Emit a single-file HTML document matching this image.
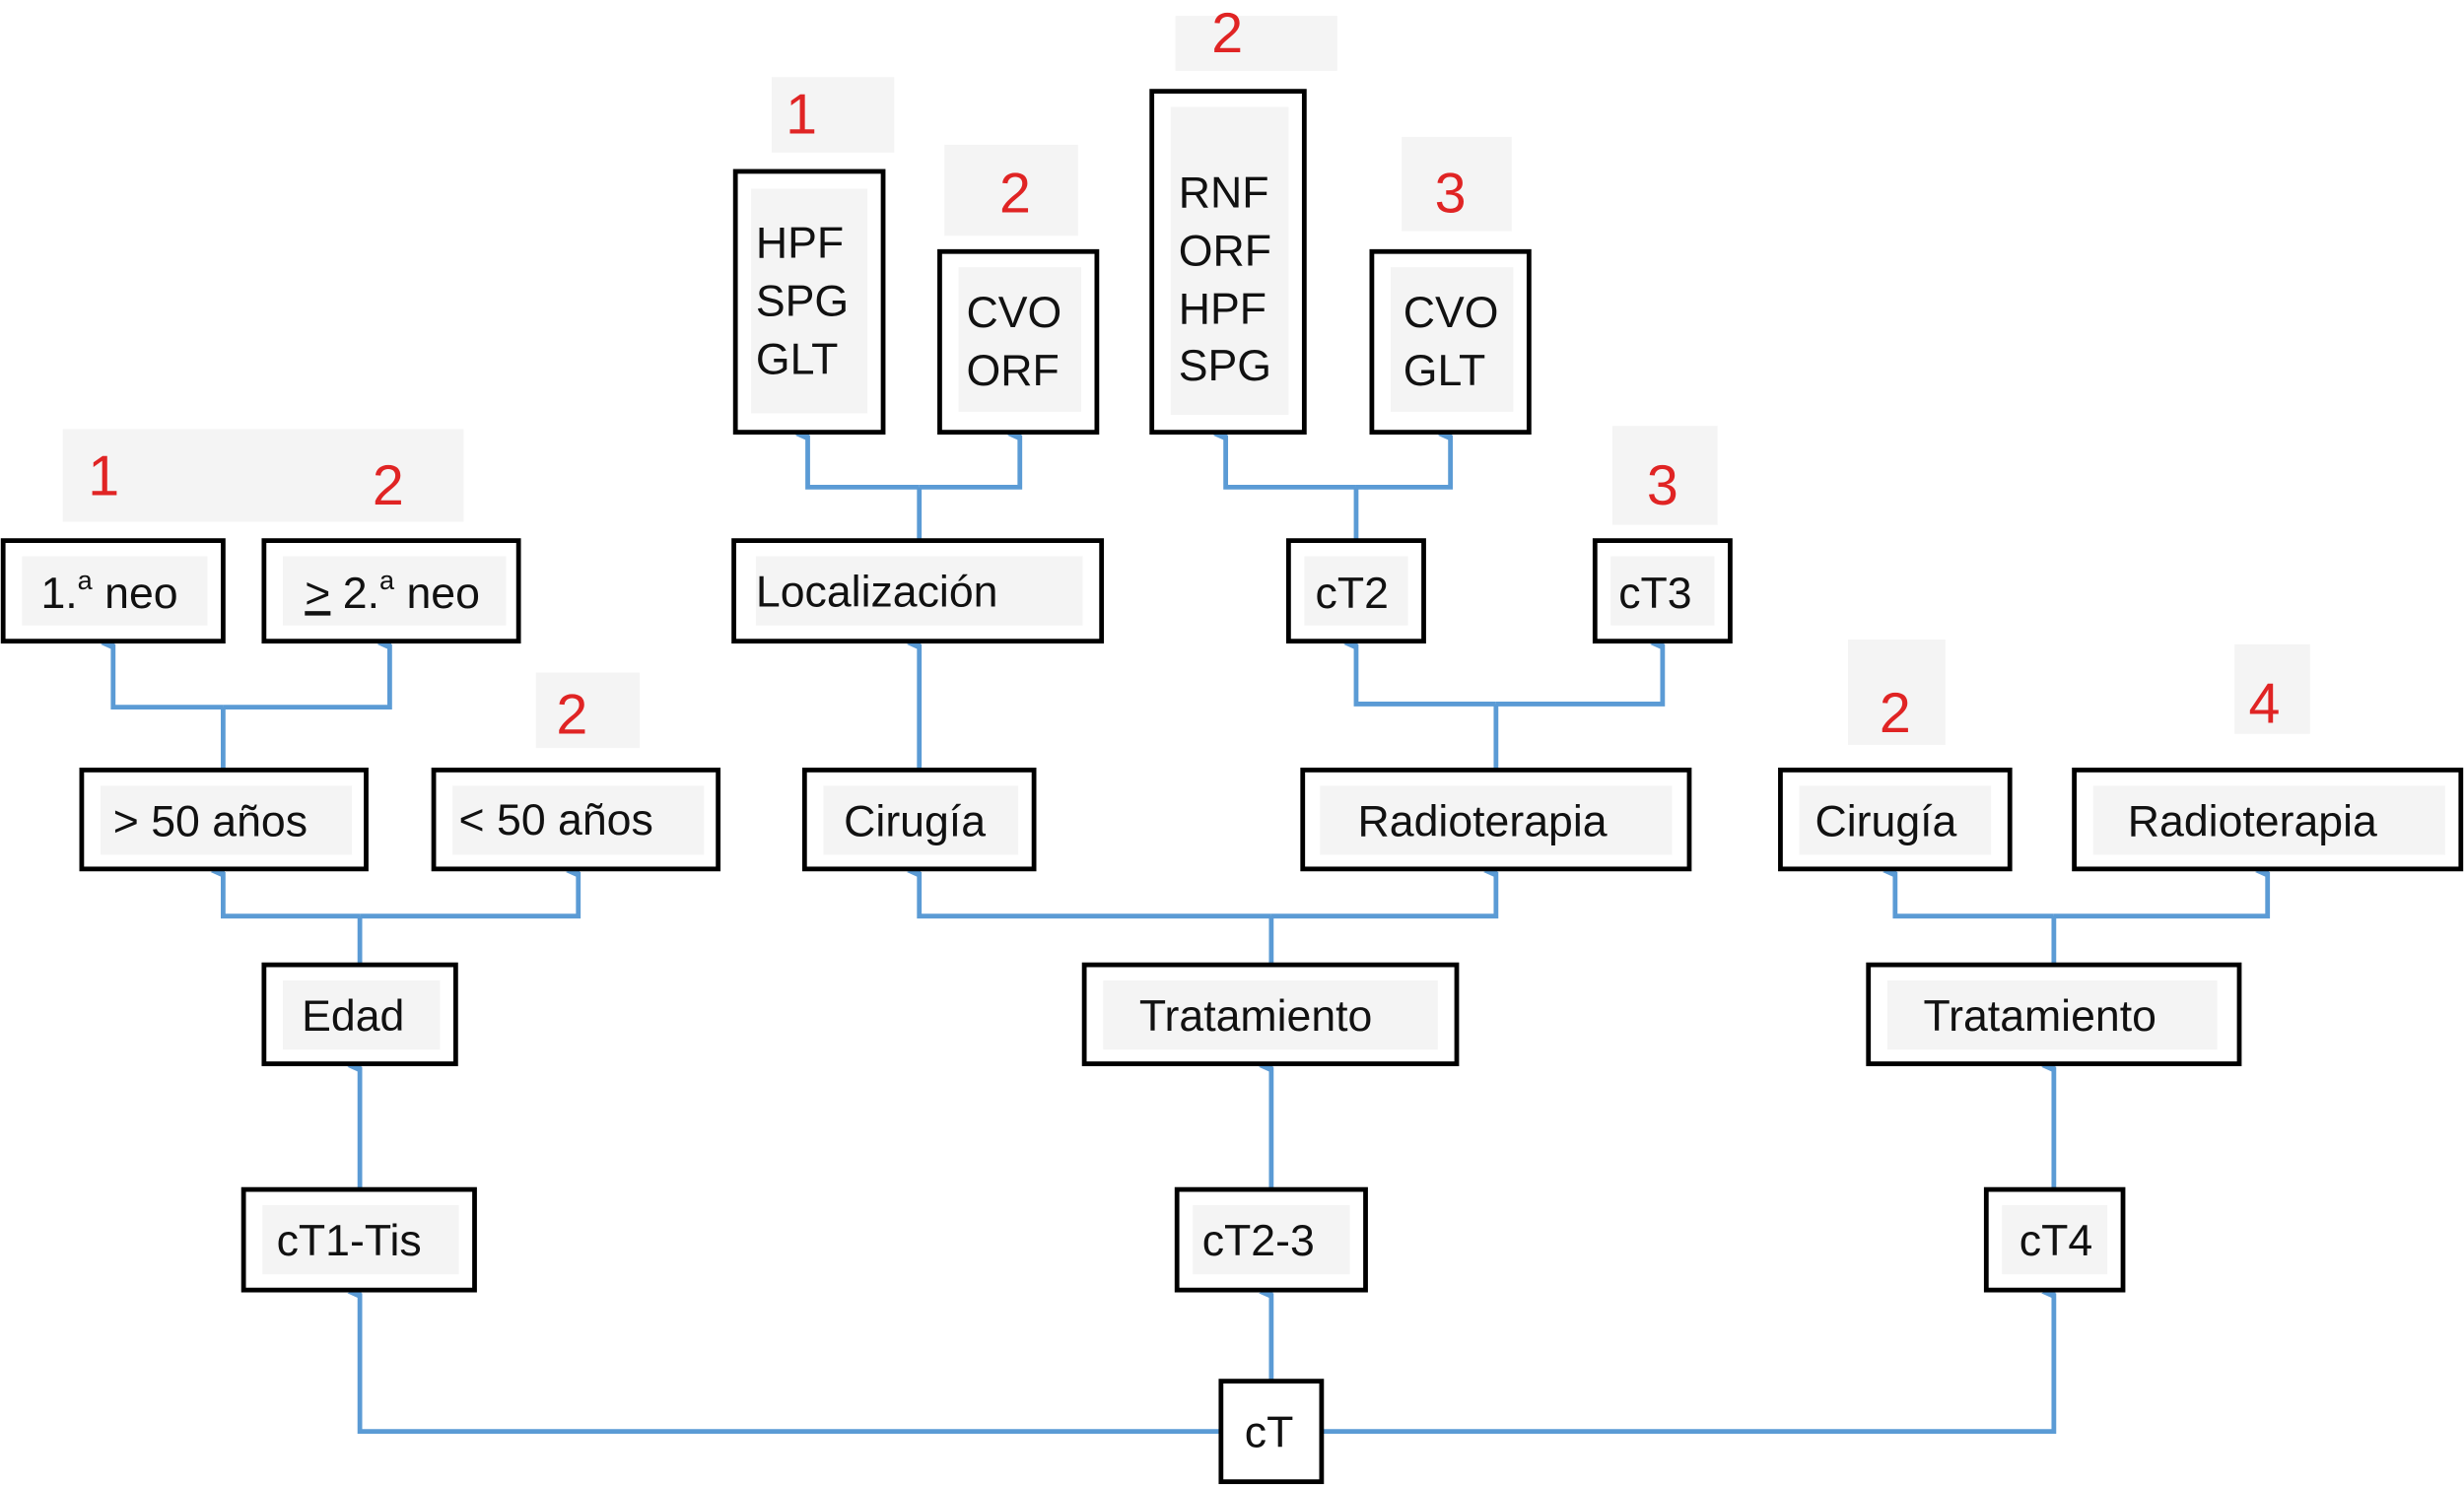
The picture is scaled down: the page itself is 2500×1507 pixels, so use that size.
<!DOCTYPE html>
<html><head><meta charset="utf-8"><style>
html,body{margin:0;padding:0;background:#fff;}
svg{display:block;}
text{font-family:"Liberation Sans",Arial,sans-serif;}
</style></head><body>
<svg width="2500" height="1507" viewBox="0 0 1568 945" xmlns="http://www.w3.org/2000/svg">
<defs>
<marker id="a" markerWidth="10" markerHeight="10" refX="5" refY="8" orient="auto" markerUnits="userSpaceOnUse" viewBox="0 0 10 10">
<path d="M1,9 L5,0 L9,9 Z" fill="#5b9bd5"/>
</marker>
</defs>
<!-- red label backgrounds -->
<g fill="#f4f4f4">
<rect x="40" y="273" width="255" height="59"/>
<rect x="341" y="428" width="66" height="48"/>
<rect x="491" y="49" width="78" height="48"/>
<rect x="601" y="92" width="85" height="58"/>
<rect x="748" y="10" width="103" height="35"/>
<rect x="892" y="87" width="70" height="60"/>
<rect x="1026" y="271" width="67" height="63"/>
<rect x="1176" y="407" width="62" height="67"/>
<rect x="1422" y="410" width="48" height="57"/>
</g>
<g fill="#e02424" font-size="36" text-anchor="middle">
<text x="66" y="315">1</text>
<text x="247" y="321">2</text>
<text x="364" y="467">2</text>
<text x="510" y="85">1</text>
<text x="646" y="135">2</text>
<text x="781" y="33">2</text>
<text x="923" y="135">3</text>
<text x="1058" y="321">3</text>
<text x="1206" y="466">2</text>
<text x="1441" y="460">4</text>
</g>
<!-- connectors -->
<g stroke="#5b9bd5" stroke-width="3" fill="none">
<path d="M777,911 H229 V823" marker-end="url(#a)"/>
<path d="M841,911 H1307 V823" marker-end="url(#a)"/>
<path d="M809,879 V823" marker-end="url(#a)"/>
<path d="M229,757 V679" marker-end="url(#a)"/>
<path d="M229,614 V583"/>
<path d="M229,583 H142 V555" marker-end="url(#a)"/>
<path d="M229,583 H368 V555" marker-end="url(#a)"/>
<path d="M142,490 V450"/>
<path d="M142,450 H72 V410" marker-end="url(#a)"/>
<path d="M142,450 H248 V410" marker-end="url(#a)"/>
<path d="M809,757 V679" marker-end="url(#a)"/>
<path d="M809,614 V583"/>
<path d="M809,583 H585 V555" marker-end="url(#a)"/>
<path d="M809,583 H952 V555" marker-end="url(#a)"/>
<path d="M585,490 V410" marker-end="url(#a)"/>
<path d="M585,344 V310"/>
<path d="M585,310 H514 V277" marker-end="url(#a)"/>
<path d="M585,310 H649 V277" marker-end="url(#a)"/>
<path d="M952,490 V448"/>
<path d="M952,448 H863 V410" marker-end="url(#a)"/>
<path d="M952,448 H1058 V410" marker-end="url(#a)"/>
<path d="M863,344 V310"/>
<path d="M863,310 H780 V277" marker-end="url(#a)"/>
<path d="M863,310 H923 V277" marker-end="url(#a)"/>
<path d="M1307,757 V679" marker-end="url(#a)"/>
<path d="M1307,614 V583"/>
<path d="M1307,583 H1206 V555" marker-end="url(#a)"/>
<path d="M1307,583 H1443 V555" marker-end="url(#a)"/>
</g>
<!-- boxes -->
<g fill="#fff" stroke="#000" stroke-width="3">
<rect x="2" y="344" width="140" height="64"/>
<rect x="168" y="344" width="162" height="64"/>
<rect x="52" y="490" width="181" height="63"/>
<rect x="276" y="490" width="181" height="63"/>
<rect x="168" y="614" width="122" height="63"/>
<rect x="155" y="757" width="147" height="64"/>
<rect x="777" y="879" width="64" height="64"/>
<rect x="467" y="344" width="234" height="64"/>
<rect x="468" y="109" width="94" height="166"/>
<rect x="598" y="160" width="100" height="115"/>
<rect x="733" y="58" width="97" height="217"/>
<rect x="873" y="160" width="100" height="115"/>
<rect x="820" y="344" width="86" height="64"/>
<rect x="1015" y="344" width="86" height="64"/>
<rect x="512" y="490" width="146" height="63"/>
<rect x="829" y="490" width="246" height="63"/>
<rect x="690" y="614" width="237" height="63"/>
<rect x="749" y="757" width="120" height="64"/>
<rect x="1133" y="490" width="146" height="63"/>
<rect x="1320" y="490" width="246" height="63"/>
<rect x="1189" y="614" width="236" height="63"/>
<rect x="1264" y="757" width="87" height="64"/>
</g>
<!-- inner gray label bgs -->
<g fill="#f4f4f4">
<rect x="14" y="354" width="118" height="44"/>
<rect x="180" y="354" width="142" height="44"/>
<rect x="64" y="500" width="160" height="44"/>
<rect x="288" y="500" width="160" height="44"/>
<rect x="180" y="624" width="100" height="44"/>
<rect x="167" y="767" width="125" height="44"/>
<rect x="481" y="354" width="208" height="44"/>
<rect x="478" y="120" width="74" height="143"/>
<rect x="610" y="170" width="78" height="92"/>
<rect x="745" y="68" width="75" height="196"/>
<rect x="885" y="170" width="78" height="92"/>
<rect x="830" y="354" width="66" height="44"/>
<rect x="1025" y="354" width="66" height="44"/>
<rect x="524" y="500" width="124" height="44"/>
<rect x="840" y="500" width="224" height="44"/>
<rect x="702" y="624" width="213" height="44"/>
<rect x="759" y="767" width="100" height="44"/>
<rect x="1145" y="500" width="122" height="44"/>
<rect x="1332" y="500" width="224" height="44"/>
<rect x="1201" y="624" width="210" height="44"/>
<rect x="1274" y="767" width="67" height="44"/>
</g>
<g fill="#111" font-size="28">
<text x="26" y="387">1.<tspan font-size="17" dy="-12">a</tspan><tspan dy="12"> neo</tspan></text>
<text x="194" y="387"><tspan text-decoration="underline">&gt;</tspan> 2.<tspan font-size="17" dy="-12">a</tspan><tspan dy="12"> neo</tspan></text>
<text x="72" y="532">&gt; 50 años</text>
<text x="292" y="531">&lt; 50 años</text>
<text x="192" y="656">Edad</text>
<text x="176" y="799">cT1-Tis</text>
<text x="792" y="921">cT</text>
<text x="481" y="386">Localización</text>
<text x="481" y="164">HPF</text>
<text x="481" y="201">SPG</text>
<text x="481" y="238">GLT</text>
<text x="615" y="208">CVO</text>
<text x="615" y="245">ORF</text>
<text x="750" y="132">RNF</text>
<text x="750" y="169">ORF</text>
<text x="750" y="206">HPF</text>
<text x="750" y="242">SPG</text>
<text x="893" y="208">CVO</text>
<text x="893" y="245">GLT</text>
<text x="837" y="387">cT2</text>
<text x="1030" y="387">cT3</text>
<text x="537" y="532">Cirugía</text>
<text x="864" y="532">Radioterapia</text>
<text x="725" y="656">Tratamiento</text>
<text x="765" y="799">cT2-3</text>
<text x="1155" y="532">Cirugía</text>
<text x="1354" y="532">Radioterapia</text>
<text x="1224" y="656">Tratamiento</text>
<text x="1285" y="799">cT4</text>
</g>
</svg>
</body></html>
